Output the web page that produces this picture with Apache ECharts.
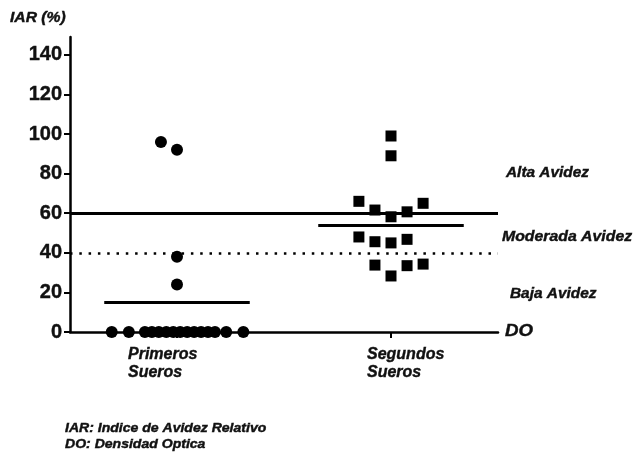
<!DOCTYPE html>
<html>
<head>
<meta charset="utf-8">
<script src="https://cdn.jsdelivr.net/npm/echarts@6/dist/echarts.min.js"></script>
<style>html,body{margin:0;padding:0;background:#fff}#c{width:641px;height:453px}</style>
</head>
<body>
<div id="c"></div>
<script>
// ---- data ----
const groupNames = ['Primeros\nSueros', 'Segundos\nSueros'];
const groupPositions = [1, 3];
const yTickValues = [0, 20, 40, 60, 80, 100, 120, 140];
// Primeros Sueros: [x (jittered), IAR %]
const primerosPoints = [
  [0.85, 96], [1.0, 92], [1.0, 38], [1.0, 24],
  [0.39, 0], [0.55, 0], [0.70, 0], [0.765, 0], [0.83, 0], [0.90, 0], [0.965, 0],
  [1.03, 0], [1.095, 0], [1.16, 0], [1.225, 0], [1.29, 0], [1.355, 0], [1.46, 0], [1.62, 0]
];
// Segundos Sueros: [x (jittered), IAR %]
const segundosPoints = [
  [3.0, 99], [3.0, 89], [2.7, 66], [2.85, 61.6], [3.0, 58.2], [3.15, 60.7], [3.3, 65],
  [2.7, 48], [2.85, 45.6], [3.0, 45], [3.15, 46.8],
  [2.85, 33.8], [3.0, 28.3], [3.15, 33.5], [3.3, 34.3]
];
const medians = [15, 54];
const altaThreshold = 60;
const bajaThreshold = 40;

// ---- chart ----
const FONT = '"Liberation Sans", Arial, sans-serif';
const medianHalf = 0.68;
const chart = echarts.init(document.getElementById('c'), null, {renderer: 'canvas'});
const medianLines = medians.map((m, i) => [
  {coord: [groupPositions[i] - medianHalf, m]},
  {coord: [groupPositions[i] + medianHalf, m]}
]);
const labelStyle = {fontFamily: FONT, fontSize: 16, fontWeight: 'bold', fontStyle: 'italic', color: '#111',
  lineHeight: 18, textBorderColor: '#111', textBorderWidth: 0.4};
const gText = (text, x, y, size, sx) => ({
  type: 'text', x: x, y: y, scaleX: sx,
  style: {text: text, font: 'italic bold ' + size + 'px ' + FONT, fill: '#111', stroke: '#111', lineWidth: 0.4}
});
chart.setOption({
  animation: false,
  backgroundColor: '#fff',
  grid: {left: 70, right: 143, top: 37, bottom: 121},
  xAxis: {
    type: 'value', min: 0, max: 4,
    splitLine: {show: false},
    axisLine: {show: true, lineStyle: {color: '#000', width: 2.5}},
    axisTick: {show: true, customValues: groupPositions, length: 6, lineStyle: {color: '#000', width: 2}},
    axisLabel: {
      customValues: groupPositions,
      margin: 14,
      formatter: v => {
        const i = groupPositions.indexOf(v);
        const parts = groupNames[i].split('\n');
        const tag = i === 0 ? 'p' : 's';
        return parts.map(t => '{' + tag + '|' + t + '}').join('\n');
      },
      rich: {
        p: Object.assign({}, labelStyle, {width: 72, align: 'left', padding: [0, 26, 0, 0]}),
        s: Object.assign({}, labelStyle, {width: 80, align: 'left', padding: [0, 0, 0, 32]})
      }
    }
  },
  yAxis: {
    type: 'value', min: 0, max: 149,
    splitLine: {show: false},
    axisLine: {show: true, lineStyle: {color: '#000', width: 2.5}},
    axisTick: {show: true, customValues: yTickValues, length: 6, lineStyle: {color: '#000', width: 2}},
    axisLabel: {
      customValues: yTickValues, margin: 8,
      fontFamily: FONT, fontSize: 20, fontWeight: 'bold', color: '#111',
      textBorderColor: '#111', textBorderWidth: 0.4
    }
  },
  series: [
    {
      type: 'scatter', data: primerosPoints, symbol: 'circle', symbolSize: 12,
      itemStyle: {color: '#000', opacity: 1},
      markLine: {
        silent: true, symbol: 'none', label: {show: false},
        lineStyle: {color: '#000', width: 3, type: 'solid'},
        data: [
          {yAxis: altaThreshold},
          {yAxis: bajaThreshold, lineStyle: {type: [2.5, 6.8], width: 2.5, color: '#000'}},
          medianLines[0], medianLines[1]
        ]
      },
      z: 3
    },
    {
      type: 'scatter', data: segundosPoints, symbol: 'rect', symbolSize: 11,
      itemStyle: {color: '#000', opacity: 1}, z: 3
    }
  ],
  graphic: [
    gText('IAR (%)', 10, 11, 14, 1.12),
    gText('Alta Avidez', 506, 166, 14, 1.1),
    gText('Moderada Avidez', 502, 230, 14, 1.13),
    gText('Baja Avidez', 510, 287, 14, 1.1),
    gText('DO', 505, 323, 17, 1.1),
    gText('IAR: Indice de Avidez Relativo', 65, 423, 12, 1.17),
    gText('DO: Densidad Optica', 65, 439, 12, 1.17)
  ]
});
</script>
</body>
</html>
